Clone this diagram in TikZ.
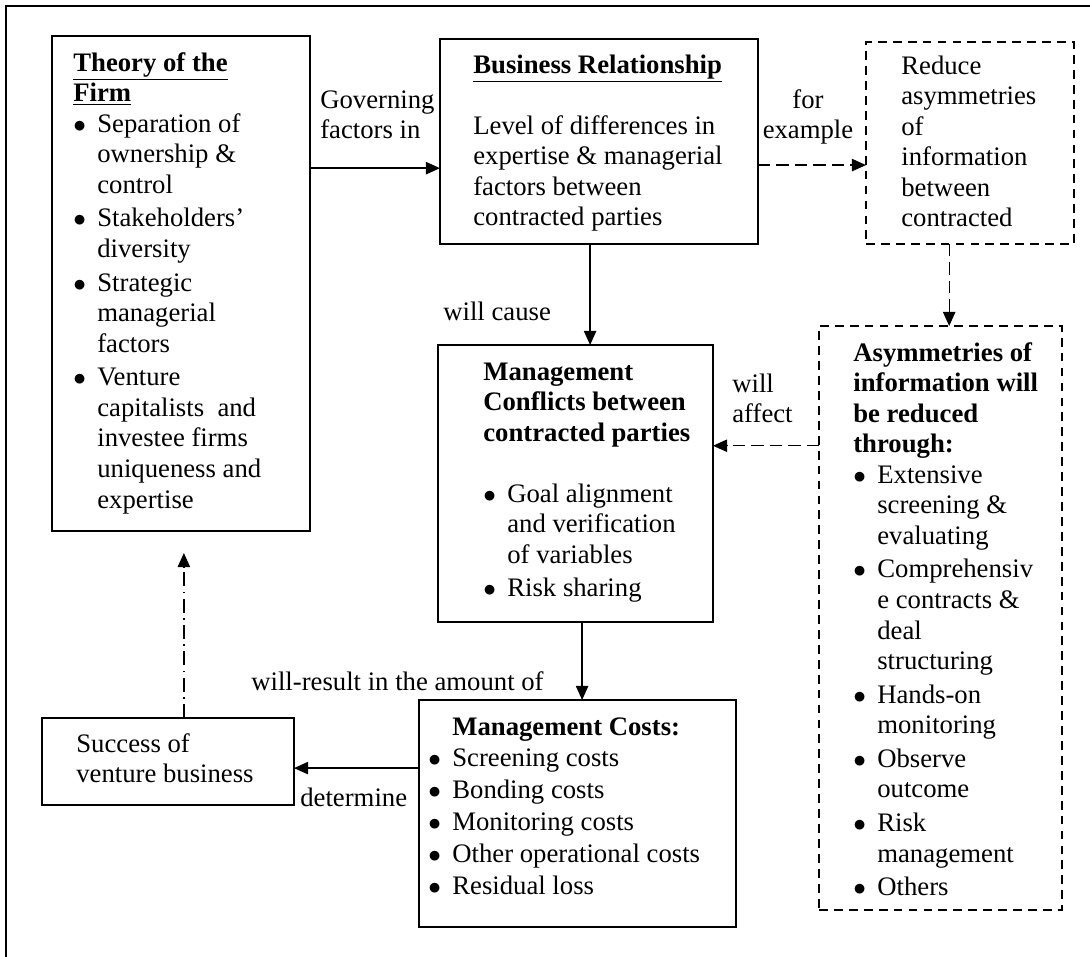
\documentclass[tikz,border=0pt]{standalone}
\usepackage{fontspec}
\setmainfont{Liberation Serif}
\usepackage{tikz}
\usetikzlibrary{arrows.meta, calc, fit}

\newcommand{\bul}{\makebox[0.48cm][l]{$\bullet$}}
\newcommand{\bsp}{\hspace*{0.48cm}}

\begin{document}
\begin{tikzpicture}[
    x=0.02cm, y=-0.02cm,
    font=\fontsize{15.2}{17.4}\selectfont,
    kotak/.style={draw, line width=1pt, inner sep=0pt, outer sep=0pt},
    kotakputus/.style={kotak, dash pattern=on 5pt off 3.5pt},
    isi/.style={inner sep=0pt, anchor=base west},
    label/.style={inner sep=0pt, anchor=base west},
    panah/.style={-{Triangle[length=8pt,width=7pt]}, line width=0.8pt},
    panahputus/.style={panah, dash pattern=on 7pt off 3.5pt},
    panahtitik/.style={panah, dash pattern=on 8pt off 3pt on 1pt off 3pt}
  ]
    \useasboundingbox (0,0) rectangle (1090,957);
    % frame
    \draw[line width=1pt] (1090,6) -- (6,6) -- (6,957);

    % boxes
    \node[kotak, fit={(52,36) (310,531)}] (teori) {};
    \node[kotak, fit={(440,39) (758,244)}] (bisnis) {};
    \node[kotakputus, fit={(866,42) (1074,244)}] (kurangi) {};
    \node[kotakputus, fit={(819,326) (1062,910)}] (asim) {};
    \node[kotak, fit={(438,345) (713,622)}] (konflik) {};
    \node[kotak, fit={(419,700) (736,927)}] (biaya) {};
    \node[kotak, fit={(42,718) (294,805)}] (sukses) {};

    % box texts
    \node[isi] (teoriisi) at (73,71) {\begin{tabular}[t]{@{}l@{}}
      \textbf{\underline{Theory of the}}\\
      \textbf{\underline{Firm}}\\
      \bul Separation of\\
      \bsp ownership \&\\
      \bsp control\\[1.7pt]
      \bul Stakeholders’\\
      \bsp diversity\\[1.7pt]
      \bul Strategic\\
      \bsp managerial\\
      \bsp factors\\[1.7pt]
      \bul Venture\\
      \bsp capitalists\ \ and\\
      \bsp investee firms\\
      \bsp uniqueness and\\
      \bsp expertise
    \end{tabular}};
    \node[isi] (bisnisisi) at (473,73) {\begin{tabular}[t]{@{}l@{}}
      \textbf{\underline{Business Relationship}}\\
      \\
      Level of differences in\\
      expertise \& managerial\\
      factors between\\
      contracted parties
    \end{tabular}};
    \node[isi] (kurangiisi) at (901,74) {\begin{tabular}[t]{@{}l@{}}
      Reduce\\ asymmetries\\ of\\ information\\ between\\ contracted
    \end{tabular}};
    \node[isi] (asimisi) at (853,361) {\begin{tabular}[t]{@{}l@{}}
      \textbf{Asymmetries of}\\
      \textbf{information will}\\
      \textbf{be reduced}\\
      \textbf{through:}\\
      \bul Extensive\\
      \bsp screening \&\\
      \bsp evaluating\\[1.7pt]
      \bul Comprehensiv\\
      \bsp e contracts \&\\
      \bsp deal\\
      \bsp structuring\\[1.7pt]
      \bul Hands-on\\
      \bsp monitoring\\[1.7pt]
      \bul Observe\\
      \bsp outcome\\[1.7pt]
      \bul Risk\\
      \bsp management\\[1.7pt]
      \bul Others
    \end{tabular}};
    \node[isi] (konflikisi) at (483,380) {\begin{tabular}[t]{@{}l@{}}
      \textbf{Management}\\
      \textbf{Conflicts between}\\
      \textbf{contracted parties}\\
      \\
      \bul Goal alignment\\
      \bsp and verification\\
      \bsp of variables\\[1.7pt]
      \bul Risk sharing
    \end{tabular}};
    \node[isi] (biayaisi) at (428,735) {\begin{tabular}[t]{@{}l@{}}
      \bsp\textbf{Management Costs:}\\[0.8pt]
      \bul Screening costs\\[0.8pt]
      \bul Bonding costs\\[0.8pt]
      \bul Monitoring costs\\[0.8pt]
      \bul Other operational costs\\[0.8pt]
      \bul Residual loss
    \end{tabular}};
    \node[isi] (suksesisi) at (76,752) {\begin{tabular}[t]{@{}l@{}}
      Success of\\ venture business
    \end{tabular}};

    % connectors
    \draw[panah] ($(teori.north east)!0.267!(teori.south east)$) coordinate (t1) -- (t1 -| bisnis.west);
    \draw[panahputus] ($(bisnis.north east)!0.615!(bisnis.south east)$) coordinate (b1) -- (b1 -| kurangi.west);
    \draw[panah] ($(bisnis.south west)!0.472!(bisnis.south east)$) coordinate (b2) -- (b2 |- konflik.north);
    \draw[panahputus] ($(kurangi.south west)!0.4!(kurangi.south east)$) coordinate (k1) -- (k1 |- asim.north);
    \draw[panahputus] ($(asim.north west)!0.205!(asim.south west)$) coordinate (a1) -- (a1 -| konflik.east);
    \draw[panah] ($(konflik.south west)!0.524!(konflik.south east)$) coordinate (c1) -- (c1 |- biaya.north);
    \draw[panah] ($(biaya.north west)!0.3!(biaya.south west)$) coordinate (m1) -- (m1 -| sukses.east);
    \coordinate (s1) at ($(sukses.north west)!0.563!(sukses.north east)$);
    \coordinate (ujung) at ([yshift=-0.44cm]s1 |- teori.south);
    \draw[panahtitik] (s1) -- (ujung);

    % connector labels
    \node[label] (lgov) at (320,108) {\begin{tabular}[t]{@{}l@{}}Governing\\ factors in\end{tabular}};
    \node[inner sep=0pt, anchor=base] (lfor) at (808,108) {\begin{tabular}[t]{@{}c@{}}for\\ example\end{tabular}};
    \node[label] (lcause) at (443,320) {will cause};
    \node[label] (laffect) at (732,392) {\begin{tabular}[t]{@{}l@{}}will\\ affect\end{tabular}};
    \node[label] (lresult) at (251,690) {will-result in the amount of};
    \node[label] (ldet) at (300,806) {determine};
  \end{tikzpicture}
\end{document}
